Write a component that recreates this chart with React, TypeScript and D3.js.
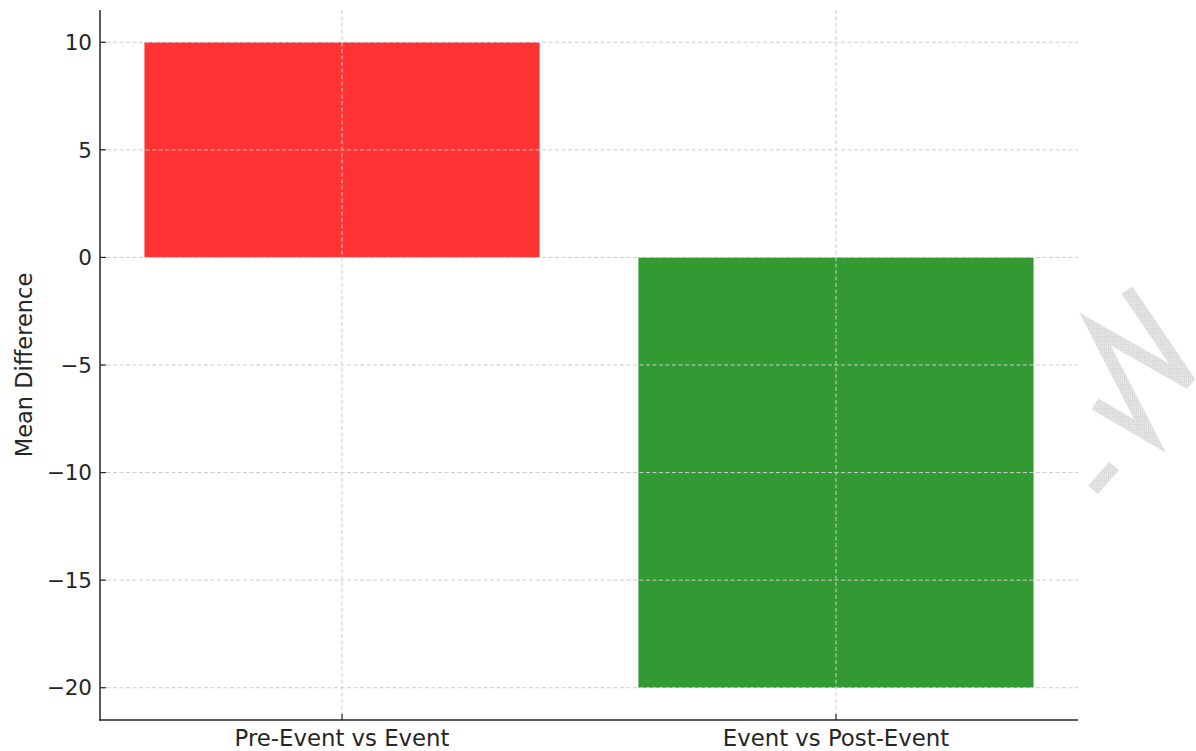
import React from "react";
import * as d3 from "d3";

const categories = ["Pre-Event vs Event", "Event vs Post-Event"];
const meanDiffs = [10, -20];
const barColors = ["#ff3333", "#339933"];
const yTicks = [-20, -15, -10, -5, 0, 5, 10];
const yLabel = "Mean Difference";

const W = 1196;
const H = 751;
const left = 100;
const right = 1078;
const top = 10;
const bottom = 720;
const font = "'DejaVu Sans', sans-serif";
const ink = "#262626";

export default function App() {
  const x = d3.scaleLinear().domain([-0.49, 1.49]).range([left, right]);
  const y = d3.scaleLinear().domain([-21.5, 11.5]).range([bottom, top]);
  const bw = 0.8;
  const wm = d3.line()([
    [1127, 290],
    [1190, 383],
    [1095, 329],
    [1150, 436],
    [1095, 404],
  ]);
  const wm2 = d3.line()([
    [1093, 490],
    [1114, 466],
  ]);
  return (
    <svg
      width={W}
      height={H}
      style={{ position: "absolute", left: 0, top: 0, background: "#fff" }}
      fontFamily={font}
    >
      <defs>
        <pattern id="dots" width="2" height="2" patternUnits="userSpaceOnUse">
          <rect width="2" height="2" fill="#e4e4e4" />
          <rect width="1" height="1" fill="#d2d2d2" />
        </pattern>
      </defs>
      {/* watermark */}
      <g stroke="url(#dots)" strokeWidth={13} fill="none" strokeLinejoin="miter">
        <path d={wm || ""} />
        <path d={wm2 || ""} />
      </g>
      {/* bars */}
      {categories.map((c, i) => {
        const v = meanDiffs[i];
        return (
          <rect
            key={c}
            x={x(i - bw / 2)}
            width={x(i + bw / 2) - x(i - bw / 2)}
            y={y(Math.max(0, v))}
            height={Math.abs(y(v) - y(0))}
            fill={barColors[i]}
          />
        );
      })}
      {/* grid */}
      <g stroke="#cccccc" strokeWidth={1} strokeDasharray="4,2.5">
        {yTicks.map((t) => (
          <line key={"gy" + t} x1={left} x2={right} y1={y(t)} y2={y(t)} />
        ))}
        {categories.map((c, i) => (
          <line key={"gx" + c} x1={x(i)} x2={x(i)} y1={top} y2={bottom} />
        ))}
      </g>
      {/* spines */}
      <line x1={left} x2={left} y1={top} y2={bottom + 0.75} stroke={ink} strokeWidth={1.5} />
      <line x1={left - 0.75} x2={right} y1={bottom} y2={bottom} stroke={ink} strokeWidth={1.5} />
      {/* y ticks */}
      {yTicks.map((t) => (
        <g key={"yt" + t}>
          <line x1={left} x2={left + 6} y1={y(t)} y2={y(t)} stroke={ink} strokeWidth={1.2} />
          <text
            x={left - 8}
            y={y(t)}
            dy="0.36em"
            textAnchor="end"
            fontSize={21.5}
            fill={ink}
          >
            {t < 0 ? "\u2212" + Math.abs(t) : String(t)}
          </text>
        </g>
      ))}
      {/* x ticks */}
      {categories.map((c, i) => (
        <g key={"xt" + c}>
          <line x1={x(i)} x2={x(i)} y1={bottom} y2={bottom - 6} stroke={ink} strokeWidth={1.2} />
          <text x={x(i)} y={bottom + 26} textAnchor="middle" fontSize={22.8} fill={ink}>
            {c}
          </text>
        </g>
      ))}
      <text
        transform={`translate(32,${(top + bottom) / 2}) rotate(-90)`}
        textAnchor="middle"
        fontSize={22.5}
        fill={ink}
      >
        {yLabel}
      </text>
    </svg>
  );
}
